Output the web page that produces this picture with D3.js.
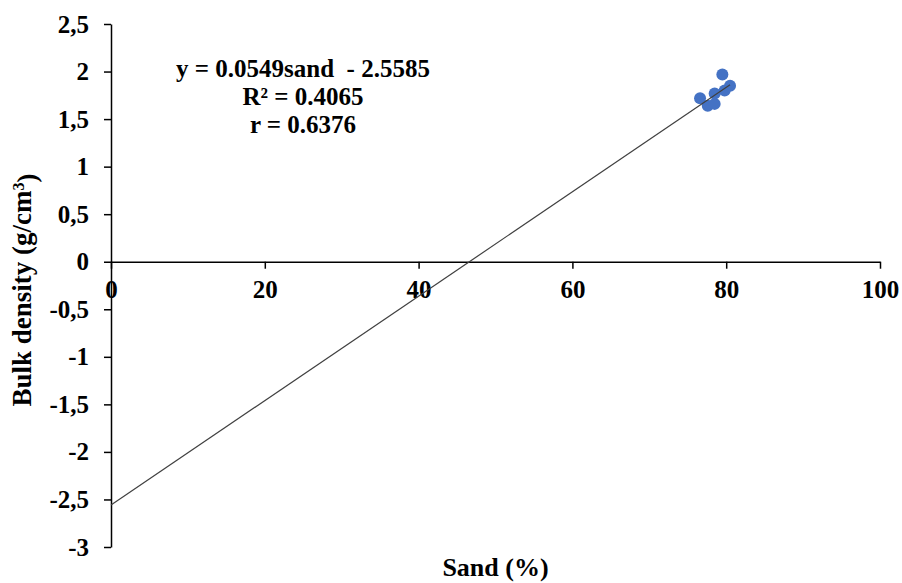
<!DOCTYPE html>
<html>
<head>
<meta charset="utf-8">
<script src="https://cdn.jsdelivr.net/npm/d3@7"></script>
<style>
  body { margin: 0; background: #fff; }
  svg { display: block; }
</style>
</head>
<body>
<div id="chart"></div>
<script>
// data
const sand = [76.6, 77.6, 78.5, 78.5, 79.5, 79.8, 80.5];
const bulkDensity = [1.72, 1.64, 1.66, 1.77, 1.97, 1.80, 1.85];
const xTicks = [0, 20, 40, 60, 80, 100];
const yTicks = [2.5, 2, 1.5, 1, 0.5, 0, -0.5, -1, -1.5, -2, -2.5, -3];
const slope = 0.0549, intercept = -2.5585;
const eqLines = ["y = 0.0549sand  - 2.5585", "R² = 0.4065", "r = 0.6376"];

const width = 902, height = 583;
const serif = "'Liberation Serif', Tinos, 'Times New Roman', Times, serif";

const x = d3.scaleLinear().domain([0, 100]).range([111, 880]);
const y = d3.scaleLinear().domain([-3, 2.5]).range([547, 24]);

const svg = d3.select("#chart").append("svg")
    .attr("width", width)
    .attr("height", height)
    .style("font-family", serif)
    .style("font-weight", "bold");

// every text node gets the font directly, the axis sets its own otherwise
const styleText = sel => sel
    .style("font-family", serif)
    .style("font-weight", "bold")
    .style("font-size", "25px")
    .attr("fill", "#000");

const fmt = d => String(d).replace(".", ",");

// y axis
const gy = svg.append("g")
    .attr("transform", `translate(${x(0)},0)`)
    .call(d3.axisLeft(y).tickValues(yTicks).tickSize(7).tickSizeOuter(0).tickPadding(15).tickFormat(fmt));
gy.attr("font-family", null).attr("font-size", null);
styleText(gy.selectAll("text"));

// x axis, sits at y = 0
const gx = svg.append("g")
    .attr("transform", `translate(0,${y(0)})`)
    .call(d3.axisBottom(x).tickValues(xTicks).tickSize(7).tickSizeOuter(0).tickFormat(d3.format("d")));
gx.attr("font-family", null).attr("font-size", null);
styleText(gx.selectAll("text")).attr("y", 36).attr("dy", 0);

[gx, gy].forEach(g => {
    g.select(".domain").attr("stroke", "#000").attr("stroke-width", 1.5);
    g.selectAll(".tick line").attr("stroke", "#000").attr("stroke-width", 1.5);
});

// points
const pts = sand.map((s, i) => ({ s: s, b: bulkDensity[i] }));
svg.append("g")
    .selectAll("circle")
    .data(pts)
    .join("circle")
    .attr("cx", d => x(d.s))
    .attr("cy", d => y(d.b))
    .attr("r", 6)
    .attr("fill", "#4472C4");

// trend line, from 0 to the largest sand value
const xmax = d3.max(sand);
svg.append("line")
    .attr("x1", x(0)).attr("y1", y(intercept))
    .attr("x2", x(xmax)).attr("y2", y(slope * xmax + intercept))
    .attr("stroke", "#404040")
    .attr("stroke-width", 1.2);

// equation block
styleText(svg.append("g")
    .selectAll("text")
    .data(eqLines)
    .join("text"))
    .attr("x", 303)
    .attr("y", (d, i) => 77 + i * 28)
    .attr("text-anchor", "middle")
    .style("white-space", "pre")
    .text(d => d);

// axis titles
styleText(svg.append("text"))
    .attr("x", (x(0) + x(100)) / 2)
    .attr("y", 576)
    .attr("text-anchor", "middle")
    .style("font-size", "26px")
    .text("Sand (%)");

const yl = styleText(svg.append("text"))
    .attr("transform", "translate(31,290) rotate(-90)")
    .attr("text-anchor", "middle")
    .style("font-size", "27px");
yl.append("tspan").text("Bulk density (g/cm");
yl.append("tspan").attr("dy", "-0.45em").style("font-size", "16px").text("3");
yl.append("tspan").attr("dy", "0.45em").text(")");
</script>
</body>
</html>
